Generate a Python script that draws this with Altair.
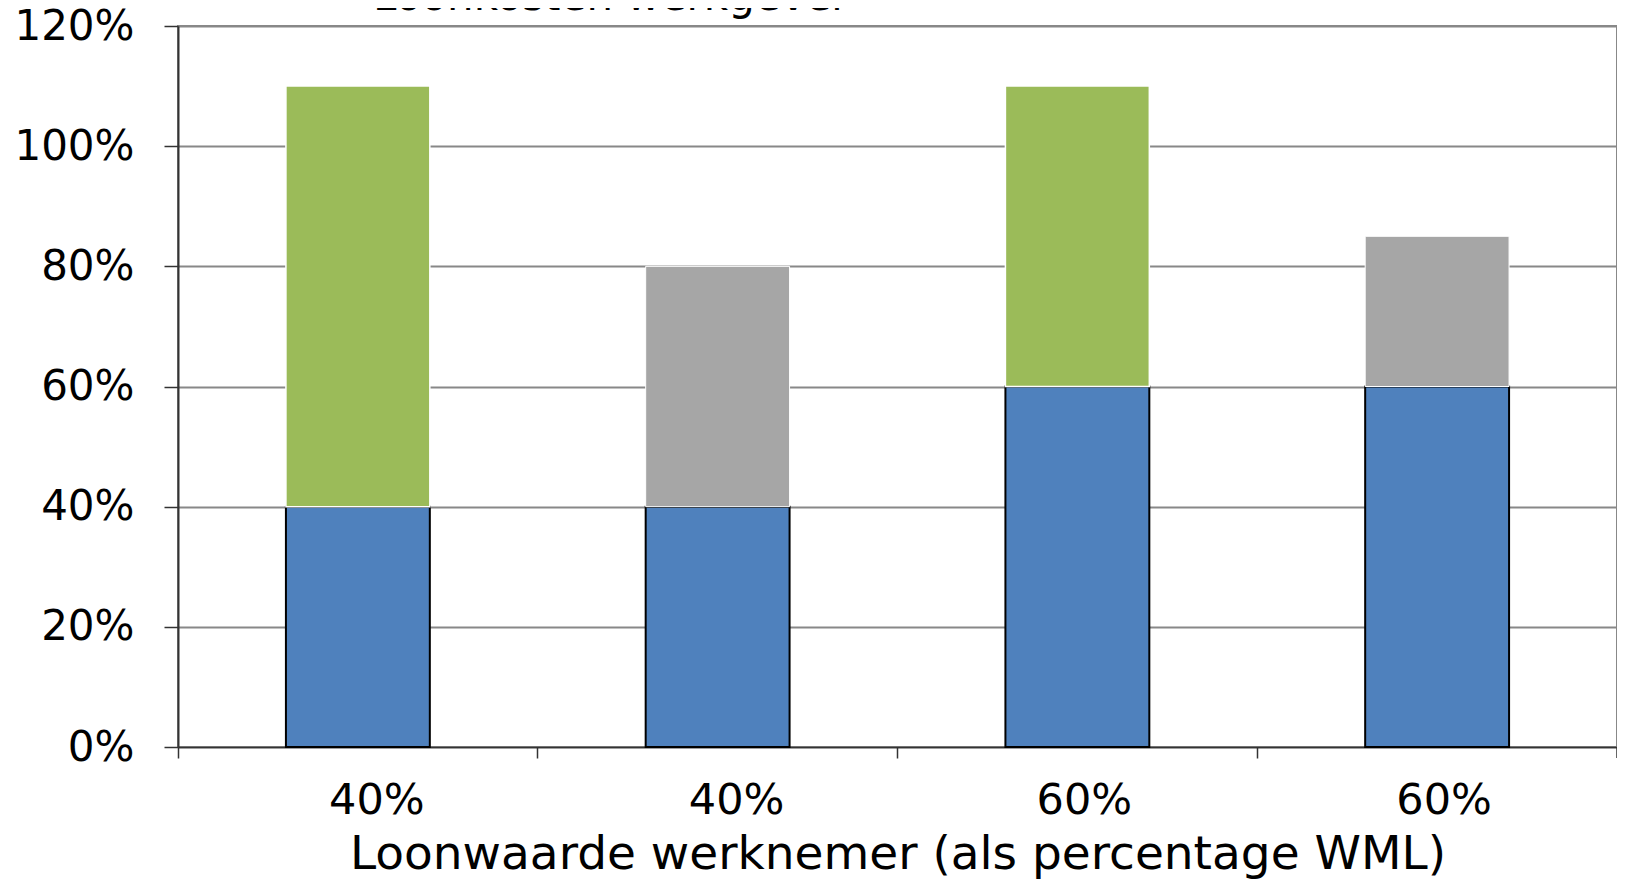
import altair as alt
import pandas as pd

# categories (unique keys, label before "|")
groepen = ["40%|1", "40%|2", "60%|3", "60%|4"]
loonwaarde = [0.40, 0.40, 0.60, 0.60]
aanvulling = [0.70, 0.40, 0.50, 0.25]
aanvulling_soort = ["Loonkostensubsidie", "Loondispensatie", "Loonkostensubsidie", "Loondispensatie"]

series = ["Loonwaarde", "Loonkostensubsidie", "Loondispensatie"]
kleuren = ["#4F81BD", "#9BBB59", "#A6A6A6"]
randen = ["#000000", "#FFFFFF", "#FFFFFF"]

rows = []
for g, lw, av, s in zip(groepen, loonwaarde, aanvulling, aanvulling_soort):
    rows.append({"groep": g, "serie": "Loonwaarde", "waarde": lw, "volgorde": 0})
    rows.append({"groep": g, "serie": s, "waarde": av, "volgorde": 1})
df = pd.DataFrame(rows)

W, H = 1439, 721
FONT = "DejaVu Sans"

bars = alt.Chart(df).mark_bar(width=alt.RelativeBandSize(0.4)).encode(
    x=alt.X(
        "groep:N",
        sort=groepen,
        scale=alt.Scale(paddingInner=0, paddingOuter=0),
        axis=alt.Axis(
            title="Loonwaarde werknemer (als percentage WML)",
            labelExpr="split(datum.label, '|')[0]",
            labelAngle=0,
            labelOffset={
                "condition": {"test": "datum.value == '40%|1' || datum.value == '40%|2'", "value": 19},
                "value": 7,
            },
            bandPosition=0,
            tickSize=11,
            tickColor="#333333",
            tickWidth=1.5,
            domainColor="#333333",
            domainWidth=1.5,
            labelFontSize=43,
            labelPadding=21,
            labelColor="#000000",
            labelFont=FONT,
            titleFont=FONT,
            titleFontSize=47,
            titleFontWeight="normal",
            titleColor="#000000",
            titlePadding=9,
            grid=False,
        ),
    ),
    y=alt.Y(
        "waarde:Q",
        stack="zero",
        scale=alt.Scale(domain=[0, 1.2], nice=False),
        axis=alt.Axis(
            title=None,
            format=".0%",
            values=[0, 0.2, 0.4, 0.6, 0.8, 1.0, 1.2],
            tickSize=14,
            tickColor="#333333",
            tickWidth=1.5,
            domainColor="#333333",
            domainWidth=2,
            gridColor="#888888",
            gridWidth=2,
            labelFontSize=42,
            labelPadding=30,
            labelColor="#000000",
            labelFont=FONT,
        ),
    ),
    color=alt.Color("serie:N", scale=alt.Scale(domain=series, range=kleuren), legend=None),
    stroke=alt.Stroke("serie:N", scale=alt.Scale(domain=series, range=randen), legend=None),
    strokeWidth=alt.StrokeWidth("serie:N", scale=alt.Scale(domain=series, range=[2, 1, 1]), legend=None),
    order=alt.Order("volgorde:Q"),
)

laatste_tick = alt.Chart(pd.DataFrame({"a": [0]})).mark_rule(color="#333333", strokeWidth=1.5).encode(
    x=alt.value(W), y=alt.value(H), y2=alt.value(H + 11)
)

titel = alt.Chart(pd.DataFrame({"t": ["Loonkosten werkgever"]})).mark_text(
    align="left", baseline="alphabetic", fontSize=42, font=FONT, color="#000000"
).encode(x=alt.value(195), y=alt.value(-16), text="t:N")

chart = alt.layer(bars, laatste_tick, titel).properties(
    width=W,
    height=H,
    autosize=alt.AutoSizeParams(type="none"),
    padding={"left": 170, "top": 18, "right": 0, "bottom": 139},
    background="white",
).configure_view(stroke="#888888", strokeWidth=2)

chart.save("out.html", embed_options={"renderer": "svg", "actions": False})
